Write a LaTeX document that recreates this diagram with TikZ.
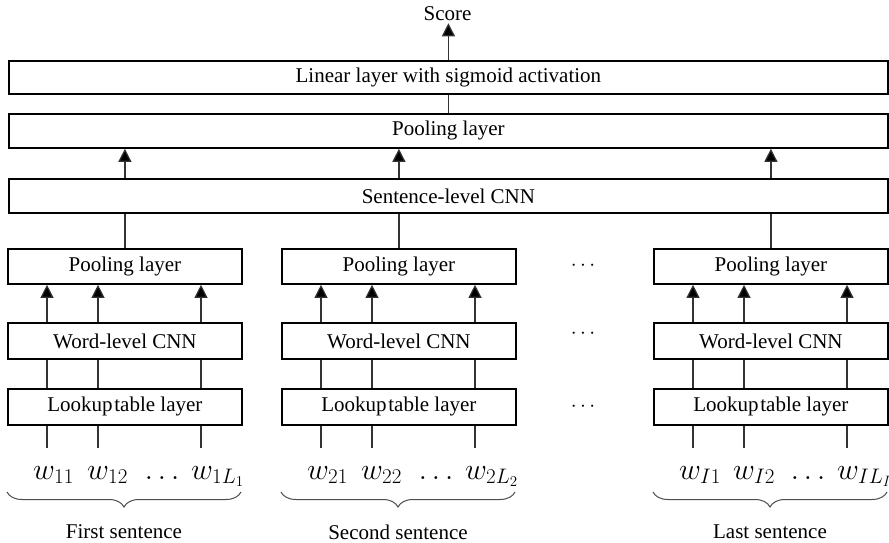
\RequirePackage{fix-cm}
\documentclass[tikz,border=0pt]{standalone}
\usepackage{fontspec}
\setmainfont{Liberation Serif}
\usetikzlibrary{arrows.meta,decorations.pathreplacing,calc}

\begin{document}
\begin{tikzpicture}[x=1pt,y=-1pt,
  layer/.style={draw=black, line width=1.8pt, inner sep=0pt, anchor=north west,
    font=\fontsize{21}{24}\selectfont},
  link/.style={draw=black!80, line width=1.2pt},
  up/.style={link, -{Triangle[width=13pt,length=13pt,fill=black]}},
  word/.style={inner sep=0pt, anchor=base west, font=\fontsize{30}{34}\selectfont},
  label/.style={inner sep=2pt, font=\fontsize{21}{24}\selectfont},
  grouping/.style={draw=black!70, line width=1pt, decorate,
    decoration={brace, mirror, amplitude=15pt}},
]
\useasboundingbox (0,0) rectangle (889,543);

% sentence-level stack
\node[label] (score) at (447.5,14) {Score};
\node[layer, minimum width=879pt, minimum height=33pt] (lin) at (8,60)
  {Linear layer with sigmoid activation};
\node[layer, minimum width=879pt, minimum height=34pt] (tpool) at (8,113)
  {Pooling layer};
\node[layer, minimum width=879pt, minimum height=34pt] (sent) at (8,178)
  {Sentence-level CNN};

\draw[up] (lin.north) -- (lin.north |- score.south);
\draw[link] (tpool.north) -- (lin.south);

% word-level stacks, one per sentence
\foreach \k/\lx/\capt/\wa/\wb/\wc in {
    1/7/First sentence/{w_{11}}/{w_{12}}/{w_{1L_1}},
    2/281/Second sentence/{w_{21}}/{w_{22}}/{w_{2L_2}},
    3/653/Last sentence/{w_{I1}}/{w_{I2}}/{w_{IL_I}}} {
  \node[layer, minimum width=234pt, minimum height=35pt] (pool\k) at (\lx,248)
    {Pooling layer};
  \node[layer, minimum width=234pt, minimum height=36pt] (wcnn\k) at (\lx,322)
    {Word-level CNN};
  \node[layer, minimum width=234pt, minimum height=36pt] (lk\k) at (\lx,388)
    {Lookup\hspace{0.08em}table layer};

  \draw[link] (pool\k.north) -- (sent.south -| pool\k.north);
  \draw[up] (sent.north -| pool\k.north) -- (tpool.south -| pool\k.north);

  \foreach \o/\j in {40/a,91/b,194/c} {
    \coordinate (in\k\j) at (\lx+\o,448);
    \draw[up] (wcnn\k.north -| in\k\j) -- (pool\k.south -| in\k\j);
    \draw[link] (lk\k.north -| in\k\j) -- (wcnn\k.south -| in\k\j);
    \draw[link] (in\k\j) -- (lk\k.south -| in\k\j);
  }

  \node[word] (w\k a) at (\lx+26,479) {$\wa$};
  \node[word] (w\k b) at (\lx+80,479) {$\wb$};
  \node[word, anchor=base] (w\k d) at (\lx+155,479) {$\dots$};
  \node[word] (w\k c) at (\lx+184,479) {$\wc$};

  \coordinate (bl\k) at (\lx,492);
  \coordinate (br\k) at (\lx+234,492);
  \draw[grouping] (bl\k) -- (br\k);
  \node[label] (cap\k) at (\lx+117,532) {\capt};
}

% elided sentences
\node[label] (dots1) at (583,266) {$\cdots$};
\node[label] (dots2) at (583,334) {$\cdots$};
\node[label] (dots3) at (583,407) {$\cdots$};
\end{tikzpicture}
\end{document}
